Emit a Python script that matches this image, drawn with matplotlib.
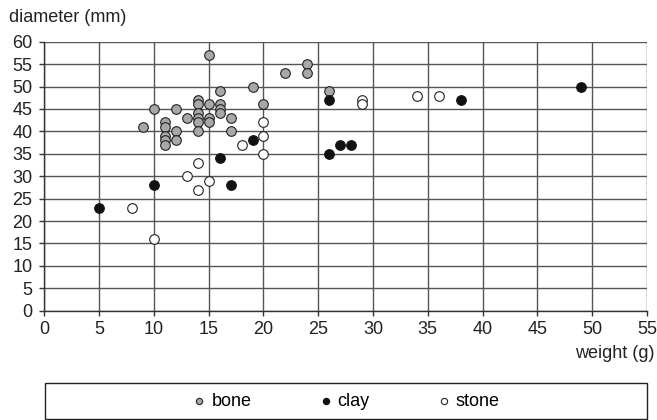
import matplotlib.pyplot as plt
from matplotlib.patches import Rectangle

plt.rcParams['font.family'] = ['Liberation Sans', 'DejaVu Sans']

# bone buttons
bone_w = [15, 16, 10, 12, 14, 14, 15, 16, 16, 16, 13, 14, 14, 14, 15, 15, 17,
          9, 11, 11, 11, 11, 11, 12, 12, 14, 17, 19, 22, 24, 24, 20, 26]
bone_d = [57, 49, 45, 45, 47, 46, 46, 46, 45, 44, 43, 44, 43, 42, 43, 42, 43,
          41, 42, 41, 39, 38, 37, 40, 38, 40, 40, 50, 53, 55, 53, 46, 49]

# clay buttons
clay_w = [16, 5, 10, 17, 19, 26, 26, 27, 28, 38, 49]
clay_d = [34, 23, 28, 28, 38, 47, 35, 37, 37, 47, 50]

# stone buttons
stone_w = [14, 13, 15, 14, 8, 10, 18, 20, 20, 20, 29, 29, 34, 36]
stone_d = [33, 30, 29, 27, 23, 16, 37, 42, 39, 35, 47, 46, 48, 48]

fs = 13
fig = plt.figure(figsize=(6.57, 4.2), dpi=100)
ax = fig.add_axes([44.3 / 657, 109.3 / 420, 602.7 / 657, 269 / 420])

ms = 48
ax.scatter(bone_w, bone_d, s=ms, c='#a8a8a8', edgecolors='#222222', linewidths=0.8, zorder=3, label='bone')
ax.scatter(clay_w, clay_d, s=ms, c='#111111', edgecolors='#111111', linewidths=0.8, zorder=3, label='clay')
ax.scatter(stone_w, stone_d, s=ms, c='white', edgecolors='#222222', linewidths=0.8, zorder=3, label='stone')

ax.set_xlim(0, 55)
ax.set_ylim(0, 60)
ax.set_xticks(range(0, 56, 5))
ax.set_yticks(range(0, 61, 5))
ax.grid(True, color='#555555', linewidth=1.0)
ax.set_axisbelow(True)
for side in ['top', 'right']:
    ax.spines[side].set_visible(False)
for side in ['left', 'bottom']:
    ax.spines[side].set_color('#333333')
    ax.spines[side].set_linewidth(1.0)
ax.tick_params(direction='out', length=3.6, width=1, color='#333333', labelsize=fs, labelcolor='#222222')
ax.tick_params(axis='x', pad=4)
ax.tick_params(axis='y', pad=5)

fig.text(9 / 657, 1 - 17 / 420, 'diameter (mm)', fontsize=fs, va='center', ha='left', color='#222222')
fig.text(655 / 657, 1 - 353 / 420, 'weight (g)', fontsize=fs, va='center', ha='right', color='#222222')

fig.patches.append(Rectangle((45 / 657, 1 - 419 / 420), 602 / 657, 36 / 420,
                             transform=fig.transFigure, fill=False, edgecolor='#222222', linewidth=1.0))
h, l = ax.get_legend_handles_labels()
leg = fig.legend(h, l, loc='center', bbox_to_anchor=(347 / 657, 1 - 401 / 420), ncol=3, frameon=False,
                 fontsize=fs, markerscale=0.65, handlelength=0.6, handletextpad=0.37, columnspacing=3.8)

fig.savefig('out.png', dpi=100)
